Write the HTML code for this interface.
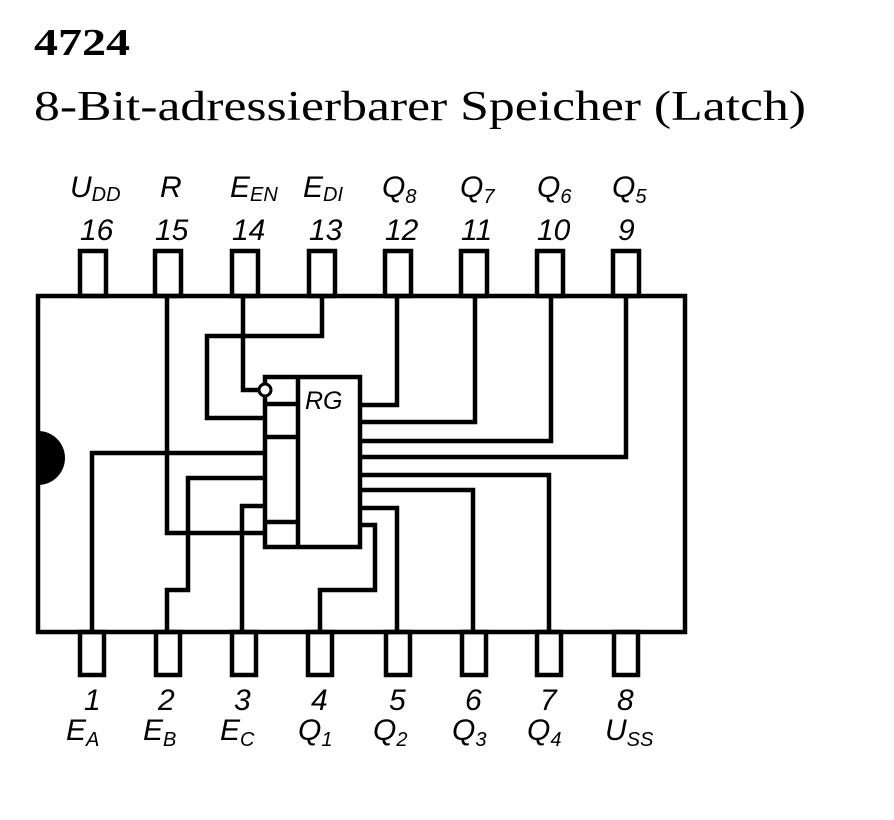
<!DOCTYPE html>
<html><head><meta charset="utf-8"><style>
html,body{margin:0;padding:0;background:#fff;}
svg{display:block;}
.l{font-family:"Liberation Sans",sans-serif;font-style:italic;font-size:30px;fill:#000;}
.s{font-size:20px;}
</style></head><body>
<svg width="894" height="820" viewBox="0 0 894 820" xmlns="http://www.w3.org/2000/svg">
<text x="34" y="55" font-family="Liberation Serif,serif" font-weight="bold" font-size="38" textLength="96" lengthAdjust="spacingAndGlyphs">4724</text>
<text x="34" y="120" font-family="Liberation Serif,serif" font-size="42" textLength="772" lengthAdjust="spacingAndGlyphs">8-Bit-adressierbarer Speicher (Latch)</text>
<g fill="none" stroke="#000" stroke-width="4.5">
<rect x="38" y="296" width="647" height="336"/>
<rect x="80" y="251" width="26" height="45"/>
<rect x="155" y="251" width="26" height="45"/>
<rect x="232" y="251" width="26" height="45"/>
<rect x="309" y="251" width="26" height="45"/>
<rect x="385" y="251" width="26" height="45"/>
<rect x="461" y="251" width="26" height="45"/>
<rect x="537" y="251" width="26" height="45"/>
<rect x="613" y="251" width="26" height="45"/>
<rect x="80" y="632" width="24" height="43"/>
<rect x="156" y="632" width="24" height="43"/>
<rect x="232" y="632" width="24" height="43"/>
<rect x="308" y="632" width="24" height="43"/>
<rect x="386" y="632" width="24" height="43"/>
<rect x="462" y="632" width="24" height="43"/>
<rect x="537" y="632" width="24" height="43"/>
<rect x="614" y="632" width="24" height="43"/>
<rect x="265" y="377" width="95" height="170"/>
<line x1="298" y1="377" x2="298" y2="547"/>
<line x1="265" y1="404" x2="298" y2="404"/>
<line x1="265" y1="437" x2="298" y2="437"/>
<line x1="265" y1="522" x2="298" y2="522"/>
<polyline points="167,296 167,533 265,533"/>
<polyline points="243,296 243,390 259,390"/>
<polyline points="322,296 322,336 207,336 207,418 265,418"/>
<polyline points="92,632 92,453 265,453"/>
<polyline points="167,632 167,590 188,590 188,478 265,478"/>
<polyline points="242,632 242,506 265,506"/>
<polyline points="397,296 397,405 360,405"/>
<polyline points="475,296 475,422 360,422"/>
<polyline points="551,296 551,441 360,441"/>
<polyline points="626,296 626,457 360,457"/>
<polyline points="549,632 549,475 360,475"/>
<polyline points="473,632 473,490 360,490"/>
<polyline points="397,632 397,508 360,508"/>
<polyline points="320,632 320,590 375,590 375,525 360,525"/>
</g>
<circle cx="265" cy="390" r="6" fill="#fff" stroke="#000" stroke-width="3"/>
<path d="M38,431 A27,27 0 0 1 38,485 Z" fill="#000"/>
<text x="305" y="409" class="l" style="font-size:25px">RG</text>
<g class="l">
<text x="70" y="197">U<tspan class="s" dy="4">DD</tspan></text>
<text x="160" y="197">R</text>
<text x="230" y="197">E<tspan class="s" dy="4">EN</tspan></text>
<text x="303" y="197">E<tspan class="s" dy="4">DI</tspan></text>
<text x="382" y="197">Q<tspan class="s" dy="6">8</tspan></text>
<text x="460" y="197">Q<tspan class="s" dy="6">7</tspan></text>
<text x="537" y="197">Q<tspan class="s" dy="6">6</tspan></text>
<text x="612" y="197">Q<tspan class="s" dy="6">5</tspan></text>
<text x="80" y="240">16</text>
<text x="155" y="240">15</text>
<text x="232" y="240">14</text>
<text x="309" y="240">13</text>
<text x="385" y="240">12</text>
<text x="461" y="240">11</text>
<text x="537" y="240">10</text>
<text x="618" y="240">9</text>
<text x="84" y="710">1</text>
<text x="158" y="710">2</text>
<text x="234" y="710">3</text>
<text x="311" y="710">4</text>
<text x="389" y="710">5</text>
<text x="465" y="710">6</text>
<text x="540" y="710">7</text>
<text x="617" y="710">8</text>
<text x="66" y="740">E<tspan class="s" dy="6">A</tspan></text>
<text x="143" y="740">E<tspan class="s" dy="6">B</tspan></text>
<text x="220" y="740">E<tspan class="s" dy="6">C</tspan></text>
<text x="298" y="740">Q<tspan class="s" dy="6">1</tspan></text>
<text x="373" y="740">Q<tspan class="s" dy="6">2</tspan></text>
<text x="452" y="740">Q<tspan class="s" dy="6">3</tspan></text>
<text x="527" y="740">Q<tspan class="s" dy="6">4</tspan></text>
<text x="605" y="740">U<tspan class="s" dy="6">SS</tspan></text>
</g>
</svg>
</body></html>
